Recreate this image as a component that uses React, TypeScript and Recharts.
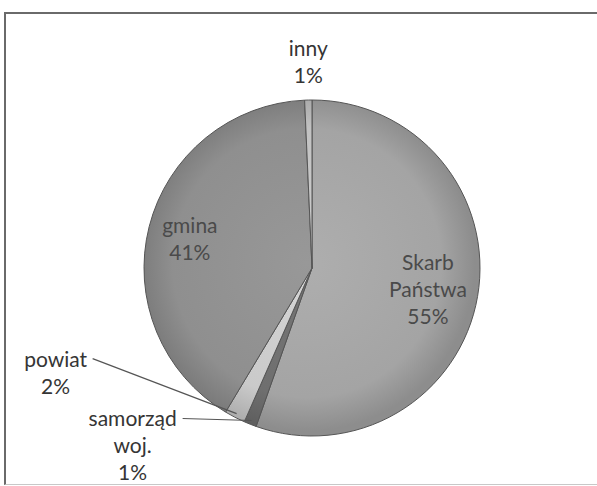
import React from 'react';
import { PieChart, Pie, Cell } from 'recharts';

// Values (clockwise from 12 o'clock)
const names = ['Skarb Państwa', 'samorząd woj.', 'powiat', 'gmina', 'inny'];
const shares = [55.4, 1.2, 2.0, 40.7, 0.7];

const fills = ['#a4a4a4', '#6f6f6f', '#cacaca', '#8f8f8f', '#c2c2c2'];
const modes = ['inside', 'left', 'left', 'inside', 'top'];
const insideR: Record<number, number> = { 0: 0.7, 3: 0.75 };
// label offset from the rim point for leader-line labels
const offsets: Record<number, [number, number]> = { 1: [-119, -3], 2: [-181, -56] };
const textHalf: Record<number, number> = { 1: 47, 2: 34 };

const data = names.map((name, i) => ({ name, value: shares[i] }));

const CX = 307;
const CY = 263;
const R = 168;
const FONT = 'Lato, "Open Sans", sans-serif';
const RAD = Math.PI / 180;
const LH = 27;

const shade = (hex: string, f: number) => {
  const n = parseInt(hex.slice(1), 16);
  const c = [(n >> 16) & 255, (n >> 8) & 255, n & 255].map((v) => Math.max(0, Math.min(255, Math.round(v * f))));
  return '#' + c.map((v) => v.toString(16).padStart(2, '0')).join('');
};

const renderLabel = (props: any) => {
  const { cx, cy, midAngle, outerRadius, percent, index } = props;
  const lines = [...names[index].split(' '), Math.round(percent * 100) + '%'];
  const cos = Math.cos(-midAngle * RAD);
  const sin = Math.sin(-midAngle * RAD);
  const mode = modes[index];
  let x = 0;
  let top = 0;
  let line: React.ReactNode = null;
  let color = '#353535';
  if (mode === 'inside') {
    const k = insideR[index];
    x = cx + outerRadius * k * cos;
    const y = cy + outerRadius * k * sin;
    top = y - (LH * (lines.length - 1)) / 2;
    color = '#4a4a4a';
  } else if (mode === 'top') {
    x = cx + outerRadius * cos;
    const y = cy + outerRadius * sin - 40;
    top = y - (LH * (lines.length - 1)) / 2;
  } else {
    const rx = cx + (outerRadius - 4) * cos;
    const ry = cy + (outerRadius - 4) * sin;
    const [dx, dy] = offsets[index];
    x = rx + dx;
    top = ry + dy;
    line = <line x1={x + textHalf[index] + 3} y1={top + 1} x2={rx} y2={ry} stroke="#555" strokeWidth={1.2} />;
  }
  return (
    <g key={'lbl' + index}>
      {line}
      <text x={x} y={top} textAnchor="middle" dominantBaseline="central" fill={color}
        style={{ fontFamily: FONT, fontSize: 21 }}>
        {lines.map((t, i) => (
          <tspan key={i} x={x} y={top + i * LH} dominantBaseline="central">{t}</tspan>
        ))}
      </text>
    </g>
  );
};

export default function App() {
  return (
    <div style={{ position: 'absolute', left: 0, top: 0, width: 597, height: 486, background: '#fff', overflow: 'hidden' }}>
      <div style={{ position: 'absolute', left: 4, top: 12, width: 620, height: 470, borderLeft: '2px solid #6a6a6a', borderTop: '2px solid #6a6a6a', borderBottom: '1px solid #c8c8c8' }} />
      <div style={{ position: 'absolute', left: 0, top: 0 }}>
        <PieChart width={597} height={486}>
          <defs>
            {fills.map((c, i) => (
              <radialGradient key={i} id={'g' + i} cx={CX} cy={CY} r={R} gradientUnits="userSpaceOnUse">
                <stop offset="0%" stopColor={shade(c, 1.06)} />
                <stop offset="80%" stopColor={c} />
                <stop offset="100%" stopColor={shade(c, 0.86)} />
              </radialGradient>
            ))}
          </defs>
          <Pie
            data={data}
            dataKey="value"
            nameKey="name"
            cx={CX}
            cy={CY}
            outerRadius={R}
            startAngle={90}
            endAngle={-270}
            stroke="#555"
            strokeWidth={1}
            label={renderLabel}
            labelLine={false}
            isAnimationActive={false}
          >
            {data.map((d, i) => (
              <Cell key={d.name} fill={`url(#g${i})`} />
            ))}
          </Pie>
        </PieChart>
      </div>
    </div>
  );
}
